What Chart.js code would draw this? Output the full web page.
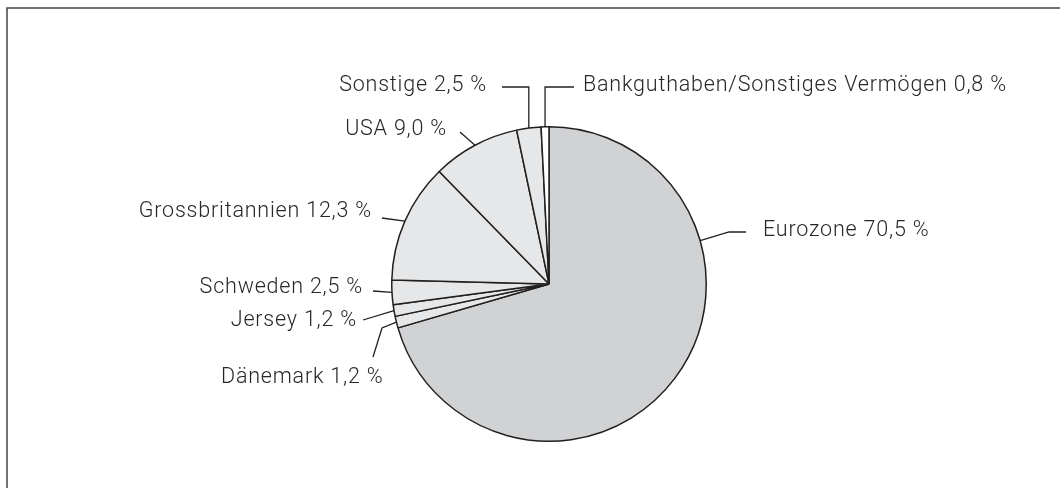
<!DOCTYPE html>
<html>
<head>
<meta charset="utf-8">
<script src="https://cdn.jsdelivr.net/npm/chart.js@4"></script>
<style>
  html, body { margin: 0; padding: 0; background: #fff; }
  #wrap { width: 1060px; height: 488px; position: relative; }
</style>
</head>
<body>
<div id="wrap"><canvas id="pieChart" width="1060" height="488"></canvas></div>
<script>
// data, clockwise from 12 o'clock
const categories = ['Eurozone', 'Dänemark', 'Jersey', 'Schweden', 'Grossbritannien', 'USA', 'Sonstige', 'Bankguthaben/Sonstiges Vermögen'];
const shares = [70.5, 1.2, 1.2, 2.5, 12.3, 9.0, 2.5, 0.8];
const sliceColors = ['#d1d2d4', '#e6e7e8', '#e6e7e8', '#e6e7e8', '#e6e7e8', '#e6e7e8', '#e6e7e8', '#ffffff'];

// label layout: text anchor, alignment, elbow points of the leader (arc point comes from the chart)
// angle: optional override of the arc anchor angle (deg clockwise from top)
const labelLayout = [
  { x: 763, y: 231, align: 'left',  path: [[729, 232], [746, 232]], angle: 74 },
  { x: 221, y: 378, align: 'left',  path: [[382, 328], [373, 357]] },
  { x: 357, y: 321, align: 'right', path: [[363, 320]] },
  { x: 363, y: 288, align: 'right', path: [[373, 291]] },
  { x: 372, y: 212, align: 'right', path: [[382, 218]] },
  { x: 447, y: 130, align: 'right', path: [[460, 132]] },
  { x: 487, y: 86,  align: 'right', path: [[null, 87], [502, 87]] },
  { x: 583, y: 86,  align: 'left',  path: [[null, 87], [574, 87]] }
];

function fmt(v) {
  return v.toFixed(1).replace('.', ',') + ' %';
}

const frameAndLabels = {
  id: 'frameAndLabels',
  beforeDraw(chart) {
    const ctx = chart.ctx;
    ctx.save();
    ctx.strokeStyle = '#444';
    ctx.lineWidth = 1.5;
    ctx.beginPath();
    ctx.moveTo(7, 488);
    ctx.lineTo(7, 8);
    ctx.lineTo(1060, 8);
    ctx.stroke();
    ctx.restore();
  },
  afterDraw(chart) {
    const ctx = chart.ctx;
    const arcs = chart.getDatasetMeta(0).data;
    ctx.save();
    ctx.strokeStyle = '#231f20';
    ctx.lineWidth = 1.3;
    ctx.fillStyle = '#2a2627';
    ctx.font = '300 21.5px Roboto';
    ctx.letterSpacing = '0.8px';
    ctx.textBaseline = 'middle';
    arcs.forEach((arc, i) => {
      const lay = labelLayout[i];
      const p = arc.getProps(['x', 'y', 'startAngle', 'endAngle', 'outerRadius']);
      let a = (p.startAngle + p.endAngle) / 2;
      if (lay.angle !== undefined) a = (lay.angle - 90) * Math.PI / 180;
      const ax = p.x + Math.cos(a) * p.outerRadius;
      const ay = p.y + Math.sin(a) * p.outerRadius;
      ctx.beginPath();
      ctx.moveTo(ax, ay);
      lay.path.forEach(pt => ctx.lineTo(pt[0] === null ? ax : pt[0], pt[1]));
      ctx.stroke();
      ctx.textAlign = lay.align;
      ctx.fillText(categories[i] + ' ' + fmt(shares[i]), lay.x, lay.y);
    });
    ctx.restore();
  }
};

new Chart(document.getElementById('pieChart'), {
  type: 'pie',
  data: {
    labels: categories,
    datasets: [{
      data: shares,
      backgroundColor: sliceColors,
      borderColor: '#231f20',
      borderWidth: 1.5
    }]
  },
  options: {
    responsive: false,
    animation: false,
    layout: { padding: { left: 391, right: 353, top: 126, bottom: 46 } },
    plugins: {
      legend: { display: false },
      tooltip: { enabled: false }
    }
  },
  plugins: [frameAndLabels]
});
</script>
</body>
</html>
